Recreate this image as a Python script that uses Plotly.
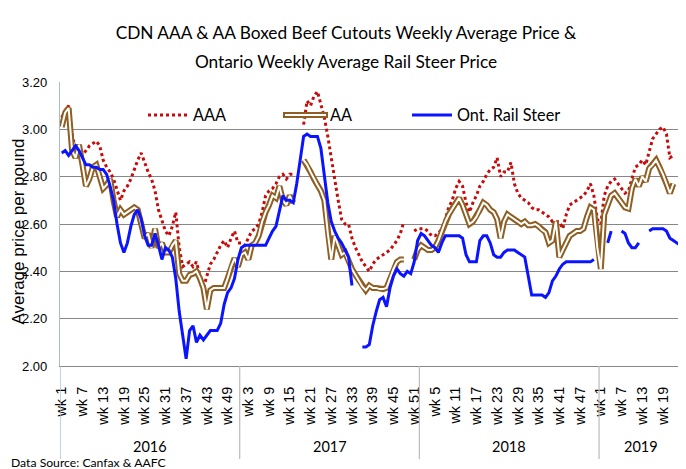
import plotly.graph_objects as go

# ---------------- data ----------------
years = ["2016", "2017", "2018", "2019"]
weeks_per_year = [52, 52, 52, 24]

# CDN AAA boxed beef cutout ($/lb), weekly, 2016 wk1 .. 2019 wk24
aaa = [
    # 2016
    3.05, 3.08, 3.10, 2.98, 2.91, 2.89, 2.89, 2.91, 2.93, 2.94, 2.95, 2.93, 2.87,
    2.84, 2.82, 2.79, 2.74, 2.70, 2.74, 2.76, 2.79, 2.83, 2.87, 2.90, 2.86, 2.82,
    2.79, 2.74, 2.66, 2.61, 2.57, 2.55, 2.59, 2.65, 2.50, 2.42, 2.43, 2.44, 2.42,
    2.44, 2.38, 2.33, 2.38, 2.43, 2.45, 2.48, 2.51, 2.53, 2.50, 2.54, 2.57, 2.52,
    # 2017
    2.52, 2.51, 2.54, 2.57, 2.58, 2.60, 2.65, 2.72, 2.74, 2.75, 2.77, 2.80, 2.81,
    2.79, 2.81, 2.81, None, None, 3.02, 3.12, 3.10, 3.14, 3.16, 3.11, 3.05, 2.97,
    2.87, 2.79, 2.70, 2.62, 2.60, 2.60, 2.54, 2.50, 2.47, 2.44, 2.42, 2.40, 2.43,
    2.45, 2.46, 2.47, 2.48, 2.49, 2.51, 2.53, 2.56, 2.61, None, None, 2.57, 2.58,
    # 2018
    2.58, 2.58, 2.57, 2.55, 2.55, 2.56, 2.58, 2.62, 2.67, 2.70, 2.75, 2.78, 2.76,
    2.69, 2.65, 2.69, 2.72, 2.76, 2.78, 2.81, 2.83, 2.84, 2.88, 2.80, 2.82, 2.82,
    2.86, 2.77, 2.73, 2.71, 2.70, 2.69, 2.67, 2.66, 2.66, 2.65, 2.64, 2.63, 2.61,
    2.61, 2.61, 2.58, 2.64, 2.68, 2.69, 2.70, 2.71, 2.72, 2.74, 2.77, 2.72, 2.62,
    # 2019
    2.60, 2.72, 2.76, 2.78, 2.79, 2.77, 2.75, 2.73, 2.74, 2.79, 2.84, 2.85, 2.87,
    2.85, 2.90, 2.96, 2.98, 3.00, 3.01, 2.98, 2.88, 2.89, None, None,
]

# CDN AA boxed beef cutout ($/lb)
aa = [
    # 2016
    3.01, 3.07, 3.09, 2.91, 2.88, 2.935, 2.85, 2.76, 2.79, 2.84, 2.85, 2.80, 2.75,
    2.765, 2.79, 2.70, 2.63, 2.66, 2.64, 2.65, 2.66, 2.67, 2.66, 2.60, 2.54, 2.56,
    2.50, 2.58, 2.50, 2.52, 2.48, 2.48, 2.51, 2.53, 2.39, 2.36, 2.36, 2.385, 2.39,
    2.40, 2.37, 2.33, 2.24, 2.32, 2.33, 2.33, 2.33, 2.33, 2.37, 2.42, 2.455, 2.42,
    # 2017
    2.47, 2.48, 2.45, 2.51, 2.52, 2.55, 2.61, 2.65, 2.68, 2.72, 2.71, 2.76, 2.70,
    2.68, 2.72, 2.69, None, None, 2.87, 2.85, 2.82, 2.79, 2.765, 2.74, 2.70, 2.56,
    2.45, 2.55, 2.51, 2.47, 2.48, 2.44, 2.41, 2.385, 2.36, 2.335, 2.32, 2.34, 2.33,
    2.33, 2.325, 2.325, 2.33, 2.37, 2.41, 2.44, 2.45, 2.45, None, None, 2.45, 2.49,
    # 2018
    2.51, 2.50, 2.49, 2.49, 2.50, 2.53, 2.57, 2.61, 2.64, 2.665, 2.69, 2.71, 2.68,
    2.64, 2.60, 2.61, 2.63, 2.66, 2.69, 2.68, 2.66, 2.65, 2.62, 2.54, 2.61, 2.64,
    2.63, 2.62, 2.61, 2.60, 2.61, 2.595, 2.595, 2.60, 2.59, 2.575, 2.565, 2.52, 2.53,
    2.61, 2.46, 2.49, 2.52, 2.55, 2.56, 2.57, 2.57, 2.58, 2.63, 2.67, 2.66, 2.50,
    # 2019
    2.41, 2.64, 2.68, 2.72, 2.73, 2.71, 2.69, 2.67, 2.665, 2.75, 2.79, 2.76, 2.80,
    2.78, 2.835, 2.85, 2.87, 2.84, 2.81, 2.77, 2.73, 2.77, None, None,
]

# Ontario weekly average rail steer price ($/lb)
rail_steer = [
    # 2016
    2.90, 2.91, 2.89, 2.91, 2.93, 2.91, 2.88, 2.85, 2.85, 2.84, 2.84, 2.83, 2.83,
    2.81, 2.76, 2.70, 2.60, 2.52, 2.48, 2.52, 2.59, 2.64, 2.66, 2.62, 2.55, 2.51,
    2.51, 2.56, 2.51, 2.45, 2.50, 2.49, 2.46, 2.37, 2.23, 2.12, 2.03, 2.15, 2.17,
    2.10, 2.13, 2.11, 2.13, 2.15, 2.15, 2.15, 2.18, 2.26, 2.31, 2.33, 2.37, 2.45,
    # 2017
    2.50, 2.51, 2.51, 2.51, 2.51, 2.51, 2.51, 2.51, 2.54, 2.57, 2.59, 2.66, 2.72,
    2.70, 2.70, 2.69, 2.77, 2.87, 2.97, 2.98, 2.97, 2.97, 2.97, 2.92, 2.81, 2.69,
    2.61, 2.57, 2.54, 2.52, 2.49, 2.46, 2.34, None, None, 2.08, 2.08, 2.09, 2.17,
    2.23, 2.28, 2.29, 2.25, 2.33, 2.38, 2.41, 2.39, 2.38, 2.40, 2.39, 2.44, 2.53,
    # 2018
    2.56, 2.55, 2.53, 2.51, 2.50, 2.48, 2.52, 2.55, 2.55, 2.55, 2.55, 2.55, 2.54,
    2.47, 2.44, 2.44, 2.44, 2.53, 2.55, 2.55, 2.52, 2.47, 2.46, 2.46, 2.48, 2.49,
    2.49, 2.49, 2.48, 2.47, 2.46, 2.38, 2.30, 2.30, 2.30, 2.30, 2.29, 2.31, 2.36,
    2.38, 2.41, 2.43, 2.44, 2.44, 2.44, 2.44, 2.44, 2.44, 2.44, 2.44, 2.45, None,
    # 2019
    None, None, 2.52, 2.57, None, None, 2.57, 2.56, 2.52, 2.50, 2.50, 2.52, None,
    None, 2.57, 2.58, 2.58, 2.58, 2.58, 2.57, 2.54, 2.53, 2.52, 2.51,
]

# category labels
week_labels = []
for y, n in zip(years, weeks_per_year):
    for w in range(1, n + 1):
        week_labels.append(f"wk {w}")
idx = list(range(len(week_labels)))
tick_idx = idx[::6]

# ---------------- styles ----------------
RED = "#C80A0A"
BROWN = "#8E5E22"
BLUE = "#0A14FF"
GRID = "#878787"
CAL = "Lato, Carlito, Calibri, sans-serif"
SANS = "Liberation Sans, Arial, sans-serif"

fig = go.Figure()
fig.add_trace(go.Scatter(x=idx, y=aaa, mode="lines", name="AAA",
                         line=dict(color=RED, width=3, dash="dot"), showlegend=False))
fig.add_trace(go.Scatter(x=idx, y=aa, mode="lines", name="AA",
                         line=dict(color=BROWN, width=6), showlegend=False))
fig.add_trace(go.Scatter(x=idx, y=aa, mode="lines", name="AA (inner)",
                         line=dict(color="white", width=2), showlegend=False, hoverinfo="skip"))
fig.add_trace(go.Scatter(x=idx, y=rail_steer, mode="lines", name="Ont. Rail Steer",
                         line=dict(color=BLUE, width=3), showlegend=False))

# The page body adds an 8px offset; lay out in window pixels and convert.
OFF = 8
WIN_W, WIN_H = 686, 469
W, H = WIN_W - OFF, WIN_H - OFF
# plot area in window pixels
L, R, T, B = 60, 682, 82, 366

def px_x(p):
    return (p - L) / (R - L)

def px_y(p):
    return (B - p) / (B - T)

shapes = []
annotations = []

# year separators and year labels
start = 0
bounds = [-0.5]
for y, n in zip(years, weeks_per_year):
    bounds.append(start + n - 0.5)
    annotations.append(dict(x=start + (n - 1) / 2, y=px_y(446), xref="x", yref="paper",
                            text=y, showarrow=False, xanchor="center", yanchor="middle",
                            font=dict(family=CAL, size=14.5, color="black")))
    start += n
for i, b in enumerate(bounds):
    shapes.append(dict(type="line", xref="x", yref="paper", x0=b, x1=b,
                       y0=0, y1=px_y(459),
                       line=dict(color="#A9BCD6" if i == 0 else "#BFBFBF", width=1.3)))

# manual legend
ly = px_y(115)
shapes.append(dict(type="line", xref="paper", yref="paper", x0=px_x(148), x1=px_x(187),
                   y0=ly, y1=ly, line=dict(color=RED, width=3, dash="dot")))
shapes.append(dict(type="line", xref="paper", yref="paper", x0=px_x(283), x1=px_x(328),
                   y0=ly, y1=ly, line=dict(color=BROWN, width=6)))
shapes.append(dict(type="line", xref="paper", yref="paper", x0=px_x(285), x1=px_x(326),
                   y0=ly, y1=ly, line=dict(color="white", width=2)))
shapes.append(dict(type="line", xref="paper", yref="paper", x0=px_x(412), x1=px_x(452),
                   y0=ly, y1=ly, line=dict(color=BLUE, width=3)))
for txt, xpx in [("AAA", 191), ("AA", 328), ("Ont. Rail Steer", 455)]:
    annotations.append(dict(x=px_x(xpx), y=ly, xref="paper", yref="paper", text=txt,
                            showarrow=False, xanchor="left", yanchor="middle",
                            font=dict(family=CAL, size=16.3, color="black")))

# y-axis title (placed explicitly)
annotations.append(dict(x=px_x(17.5), y=px_y(232), xref="paper", yref="paper",
                        text="Average price per pound", textangle=-90, showarrow=False,
                        xanchor="center", yanchor="middle",
                        font=dict(family=SANS, size=17, color="black")))

# source note
annotations.append(dict(x=px_x(OFF + 1), y=px_y(462), xref="paper", yref="paper",
                        text="Data Source: Canfax & AAFC", showarrow=False,
                        xanchor="left", yanchor="middle",
                        font=dict(family=CAL, size=12.2, color="black")))

title_text = ("<span style='font-size:17.3px'>CDN AAA & AA Boxed Beef Cutouts Weekly Average Price &</span><br>"
              "<span style='font-size:17.3px'>Ontario Weekly Average Rail Steer Price</span>")

fig.update_layout(
    width=W, height=H, autosize=False,
    margin=dict(l=L - OFF, r=WIN_W - R, t=T - OFF, b=WIN_H - B, pad=0),
    paper_bgcolor="white", plot_bgcolor="white",
    title=dict(text=title_text, x=(346 - OFF) / W, xanchor="center", xref="container",
               y=1 - (39 - OFF) / H, yanchor="middle", yref="container",
               font=dict(family=CAL, size=22.5, color="black")),
    shapes=shapes, annotations=annotations,
    xaxis=dict(range=[-0.5, len(idx) - 0.5], tickmode="array", tickvals=tick_idx,
               ticktext=[week_labels[i] for i in tick_idx], tickangle=-90,
               tickfont=dict(family=SANS, size=14.5, color="black"),
               showgrid=False, zeroline=False, showline=True, linecolor=GRID,
               linewidth=1, ticks="", ticklabelstandoff=14, automargin=False),
    yaxis=dict(range=[2.0, 3.2], tick0=2.0, dtick=0.2, tickformat=".2f",
               tickfont=dict(family=SANS, size=13, color="black"),
               showgrid=True, gridcolor=GRID, gridwidth=1, zeroline=False,
               showline=True, linecolor="#A9BCD6", linewidth=1.3, ticks="",
               ticklabelstandoff=9, automargin=False),
)

fig.write_html("out.html")
